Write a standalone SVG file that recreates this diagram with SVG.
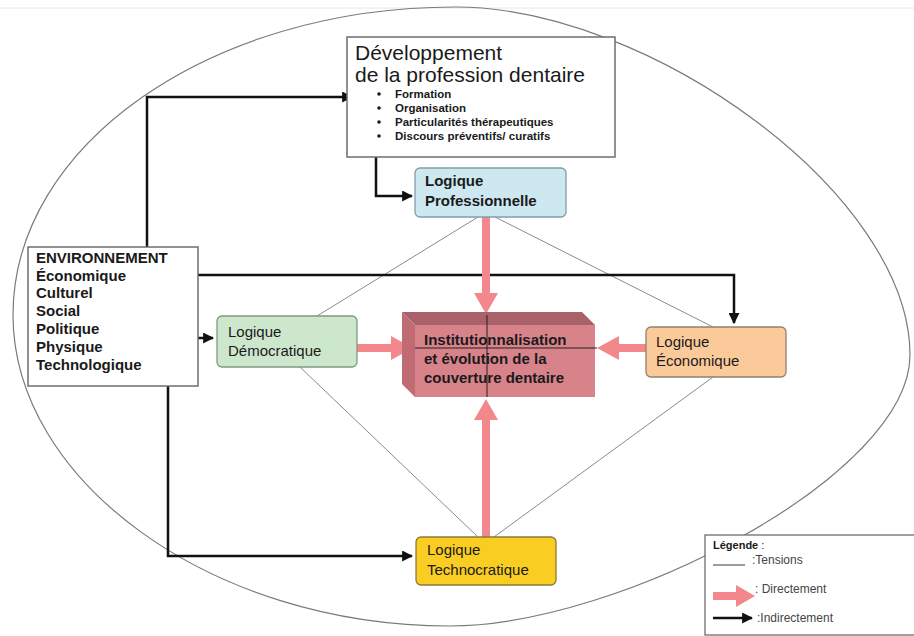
<svg xmlns="http://www.w3.org/2000/svg" width="914" height="636" viewBox="0 0 914 636">
<style>
text{font-family:"Liberation Sans",Arial,sans-serif;fill:#1a1a1a}
.b{font-weight:bold}
.box{fill:#fff;stroke:#6e6e6e;stroke-width:1.5}
.lg{stroke-width:1.3}
.ten{stroke:#8a8a8a;stroke-width:1;fill:none}
.ind{stroke:#111;stroke-width:2.5;fill:none}
.dir{stroke:#f2878c;stroke-width:8;fill:none}
.ph{fill:#f2878c}
</style>
<defs>
<marker id="ah" viewBox="0 0 10 10" refX="9" refY="5" markerWidth="4.4" markerHeight="4.4" orient="auto" markerUnits="strokeWidth">
<path d="M0,0 L10,5 L0,10 Z" fill="#111"/>
</marker>
</defs>
<rect width="914" height="636" fill="#fff"/>
<line x1="0" y1="8" x2="914" y2="8" stroke="#e8e8e8" stroke-width="1"/>
<path id="boundary" d="M13,315 C13,145 210,7 455,7 C650,7 910,195 910,355 C910,475 620,626 450,626 C210,626 13,480 13,315 Z" fill="none" stroke="#7a7a7a" stroke-width="1.2"/>

<g id="connectors">
<g id="tensions">
<line class="ten" x1="478" y1="217" x2="317" y2="316"/>
<line class="ten" x1="495" y1="217" x2="713" y2="327"/>
<line class="ten" x1="300" y1="367" x2="478" y2="537"/>
<line class="ten" x1="713" y1="377" x2="494" y2="537"/>
</g>
<g id="indirect">
<path class="ind" d="M147,247 V97 H352" marker-end="url(#ah)"/>
<path class="ind" d="M376,157 V196 H412" marker-end="url(#ah)"/>
<path class="ind" d="M198,275 H734 V323" marker-end="url(#ah)"/>
<path class="ind" d="M198,338 H213" marker-end="url(#ah)"/>
<path class="ind" d="M168,386 V556 H412" marker-end="url(#ah)"/>
</g>
<g id="direct">
<line class="dir" x1="486" y1="217" x2="486" y2="295"/>
<polygon class="ph" points="474,293 498,293 486,314"/>
<line class="dir" x1="486" y1="537" x2="486" y2="418"/>
<polygon class="ph" points="474,420 498,420 486,399"/>
<line class="dir" x1="357" y1="348" x2="393" y2="348"/>
<polygon class="ph" points="391,336 391,360 413,348"/>
<line class="dir" x1="646" y1="348" x2="617" y2="348"/>
<polygon class="ph" points="619,336 619,360 597,348"/>
</g>
</g>

<g id="developpement">
<rect class="box" x="347" y="37" width="268" height="120"/>
<text x="355" y="60" font-size="21">Développement</text>
<text x="355" y="82" font-size="21">de la profession dentaire</text>
<circle cx="379" cy="94" r="1.8" fill="#1a1a1a"/>
<circle cx="379" cy="108" r="1.8" fill="#1a1a1a"/>
<circle cx="379" cy="122" r="1.8" fill="#1a1a1a"/>
<circle cx="379" cy="136" r="1.8" fill="#1a1a1a"/>
<text class="b" x="395" y="98" font-size="11.5">Formation</text>
<text class="b" x="395" y="112" font-size="11.5">Organisation</text>
<text class="b" x="395" y="126" font-size="11.5">Particularités thérapeutiques</text>
<text class="b" x="395" y="140" font-size="11.5">Discours préventifs/ curatifs</text>
</g>

<g id="professionnelle">
<rect x="415" y="168" width="151" height="49" rx="5" fill="#cde8f1" stroke="#7f9ea8" stroke-width="1.3"/>
<text class="b" x="425" y="186" font-size="15">Logique</text>
<text class="b" x="425" y="206" font-size="15">Professionnelle</text>
</g>

<g id="environnement">
<rect class="box" x="28" y="247" width="170" height="139"/>
<text class="b" x="36" y="263" font-size="15">ENVIRONNEMENT</text>
<text class="b" x="36" y="281" font-size="15">Économique</text>
<text class="b" x="36" y="298" font-size="15">Culturel</text>
<text class="b" x="36" y="316" font-size="15">Social</text>
<text class="b" x="36" y="334" font-size="15">Politique</text>
<text class="b" x="36" y="352" font-size="15">Physique</text>
<text class="b" x="36" y="370" font-size="15">Technologique</text>
</g>

<g id="democratique">
<rect x="217" y="316" width="140" height="51" rx="5" fill="#cde7cd" stroke="#7f9a80" stroke-width="1.3"/>
<text x="228" y="337" font-size="15">Logique</text>
<text x="228" y="356" font-size="15">Démocratique</text>
</g>

<g id="institutionnalisation">
<polygon points="402,312 582,312 595,325 415,325" fill="#a9626a"/>
<polygon points="402,312 415,325 415,397 402,384" fill="#c06b73"/>
<rect x="415" y="325" width="180" height="72" fill="#d8828a"/>
<line x1="415" y1="348" x2="597" y2="348" stroke="#222" stroke-width="1"/>
<line x1="487" y1="315" x2="487" y2="397" stroke="#222" stroke-width="1"/>
<text class="b" x="424" y="345" font-size="15">Institutionnalisation</text>
<text class="b" x="424" y="364" font-size="15">et évolution de la</text>
<text class="b" x="424" y="383" font-size="15">couverture dentaire</text>
</g>

<g id="economique">
<rect x="646" y="327" width="140" height="50" rx="5" fill="#fbca9b" stroke="#8f8270" stroke-width="1.3"/>
<text x="656" y="347" font-size="15">Logique</text>
<text x="656" y="366" font-size="15">Économique</text>
</g>

<g id="technocratique">
<rect x="416" y="537" width="140" height="48" rx="5" fill="#f9cd22" stroke="#8c7a3a" stroke-width="1.3"/>
<text x="427" y="555" font-size="15">Logique</text>
<text x="427" y="575" font-size="15">Technocratique</text>
</g>

<g id="legende">
<rect class="box lg" x="705" y="535" width="215" height="100"/>
<text class="b" x="713" y="549" font-size="11">Légende <tspan font-weight="normal">:</tspan></text>
<line x1="713" y1="565" x2="745" y2="565" stroke="#666" stroke-width="1.3"/>
<text x="752" y="564" font-size="12" style="fill:#444">:Tensions</text>
<line class="dir" x1="713" y1="596" x2="738" y2="596"/>
<polygon class="ph" points="736,585 736,607 755,596"/>
<text x="755" y="593" font-size="12" style="fill:#444">: Directement</text>
<path class="ind" d="M713,618 H752" marker-end="url(#ah)"/>
<text x="757" y="622" font-size="12" style="fill:#444">:Indirectement</text>
</g>
</svg>
